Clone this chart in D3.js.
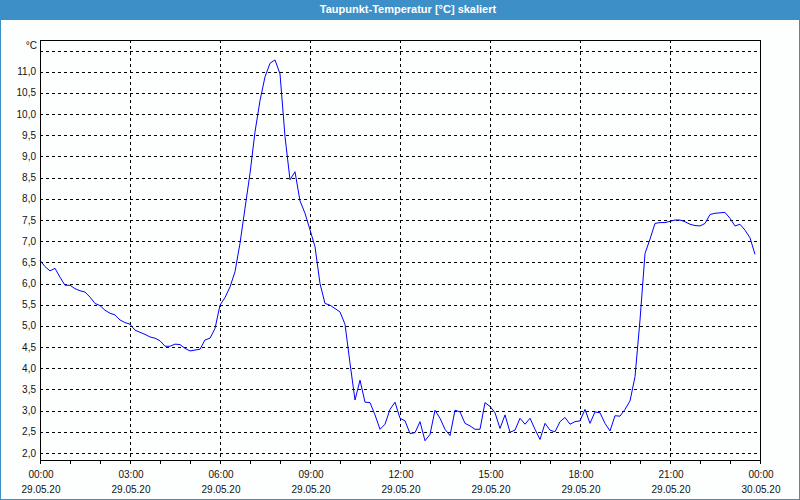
<html>
<head>
<script src="https://d3js.org/d3.v7.min.js"></script>
<style>
  body { margin: 0; background: #fff; }
  text { font-family: "Liberation Sans", Arial, sans-serif; }
</style>
</head>
<body>
<script>
  // dew point readings, one every 10 minutes from 29.05.20 00:00
  var stepMinutes = 10;
  var temps = [
    6.55, 6.40, 6.30, 6.36, 6.15, 5.96, 5.96, 5.88, 5.83, 5.80,
    5.68, 5.53, 5.48, 5.37, 5.30, 5.26, 5.14, 5.08, 5.04, 4.90,
    4.85, 4.80, 4.74, 4.71, 4.65, 4.52, 4.52, 4.57, 4.56, 4.47,
    4.41, 4.43, 4.45, 4.67, 4.71, 4.94, 5.49, 5.67, 5.92, 6.28,
    6.95, 7.78, 8.60, 9.58, 10.32, 10.88, 11.20, 11.28, 10.95, 9.47,
    8.45, 8.64, 7.95, 7.66, 7.27, 6.87, 6.00, 5.53, 5.49, 5.41,
    5.33, 5.04, 4.12, 3.25, 3.72, 3.20, 3.19, 2.90, 2.56, 2.68,
    3.03, 3.20, 2.82, 2.76, 2.46, 2.48, 2.74, 2.29, 2.44, 3.01,
    2.82, 2.56, 2.41, 3.01, 2.97, 2.70, 2.64, 2.56, 2.56, 3.19,
    3.10, 2.95, 2.58, 2.90, 2.49, 2.54, 2.82, 2.68, 2.82, 2.56,
    2.32, 2.70, 2.54, 2.50, 2.74, 2.84, 2.68, 2.74, 2.76, 3.03,
    2.70, 2.97, 2.95, 2.70, 2.52, 2.88, 2.87, 3.03, 3.23, 3.80,
    5.14, 6.71, 7.05, 7.42, 7.44, 7.44, 7.47, 7.50, 7.50, 7.46,
    7.40, 7.37, 7.36, 7.42, 7.63, 7.66, 7.67, 7.68, 7.54, 7.36,
    7.40, 7.26, 7.08, 6.69
  ];

  var yTicks = [2.0, 2.5, 3.0, 3.5, 4.0, 4.5, 5.0, 5.5, 6.0, 6.5, 7.0, 7.5, 8.0, 8.5, 9.0, 9.5, 10.0, 10.5, 11.0, 11.5];
  var xTicks = [0, 3, 6, 9, 12, 15, 18, 21, 24];
  var timeLabels = ["00:00", "03:00", "06:00", "09:00", "12:00", "15:00", "18:00", "21:00", "00:00"];
  var dateLabels = ["29.05.20", "29.05.20", "29.05.20", "29.05.20", "29.05.20", "29.05.20", "29.05.20", "29.05.20", "30.05.20"];
  var title = "Taupunkt-Temperatur [°C] skaliert";

  const W = 800, H = 500;
  const plotL = 40, plotR = 760, plotT = 40, plotB = 460;
  const frame = "#3d8fc7";

  var svg = d3.select("body").append("svg")
    .attr("width", W).attr("height", H);

  svg.append("rect").attr("x", 0).attr("y", 0).attr("width", W).attr("height", H)
    .attr("fill", "#fdfffe");

  // window frame + title bar
  svg.append("rect").attr("x", 0.5).attr("y", 0.5).attr("width", W - 1).attr("height", H - 1)
    .attr("fill", "none").attr("stroke", frame);
  svg.append("rect").attr("x", 0).attr("y", 0).attr("width", W).attr("height", 20)
    .attr("fill", frame);
  svg.append("text").attr("x", 408).attr("y", 9)
    .attr("text-anchor", "middle").attr("dominant-baseline", "central")
    .attr("fill", "#fff").attr("font-size", 11).attr("font-weight", 600)
    .text(title);

  var x = d3.scaleLinear().domain([0, 24]).range([plotL, plotR]);
  var y = d3.scaleLinear().domain([1.835, 11.75]).range([plotB, plotT]);

  // horizontal grid
  svg.selectAll(".hgrid").data(yTicks).enter().append("line")
    .attr("x1", plotL).attr("x2", plotR)
    .attr("y1", d => Math.round(y(d)) + 0.5).attr("y2", d => Math.round(y(d)) + 0.5)
    .attr("stroke", "#000").attr("stroke-dasharray", "3,3");

  // vertical grid
  svg.selectAll(".vgrid").data(xTicks.slice(1, -1)).enter().append("line")
    .attr("x1", d => x(d) + 0.5).attr("x2", d => x(d) + 0.5)
    .attr("y1", plotT).attr("y2", plotB)
    .attr("stroke", "#000").attr("stroke-dasharray", "3,3");

  // plot frame
  svg.append("rect").attr("x", plotL + 0.5).attr("y", plotT + 0.5)
    .attr("width", plotR - plotL).attr("height", plotB - plotT)
    .attr("fill", "none").attr("stroke", "#000");

  // hourly ticks
  svg.selectAll(".tick").data(d3.range(0, 25)).enter().append("line")
    .attr("x1", d => x(d) + 0.5).attr("x2", d => x(d) + 0.5)
    .attr("y1", plotB).attr("y2", plotB + 4)
    .attr("stroke", "#000");

  // y labels
  svg.selectAll(".ylab").data(yTicks).enter().append("text")
    .attr("x", 36).attr("y", d => y(d))
    .attr("text-anchor", "end").attr("dominant-baseline", "central")
    .attr("font-size", 10).attr("fill", "#111")
    .text(d => d === 11.5 ? "" : d.toFixed(1).replace(".", ","));
  svg.append("text").attr("x", 37).attr("y", 45)
    .attr("text-anchor", "end").attr("dominant-baseline", "central")
    .attr("font-size", 10).attr("fill", "#111").text("°C");

  // x labels
  svg.selectAll(".xlab").data(xTicks).enter().append("text")
    .attr("x", d => x(d) + 1).attr("y", 474)
    .attr("text-anchor", "middle").attr("dominant-baseline", "central")
    .attr("font-size", 10).attr("fill", "#111")
    .text((d, i) => timeLabels[i]);
  svg.selectAll(".dlab").data(xTicks).enter().append("text")
    .attr("x", d => x(d) + 1).attr("y", 489)
    .attr("text-anchor", "middle").attr("dominant-baseline", "central")
    .attr("font-size", 10).attr("fill", "#111")
    .text((d, i) => dateLabels[i]);

  var line = d3.line()
    .x((d, i) => x(i * stepMinutes / 60))
    .y(d => y(d));

  svg.append("path").datum(temps)
    .attr("d", line)
    .attr("fill", "none")
    .attr("stroke", "#0000ff")
    .attr("stroke-width", 1);
</script>
</body>
</html>
